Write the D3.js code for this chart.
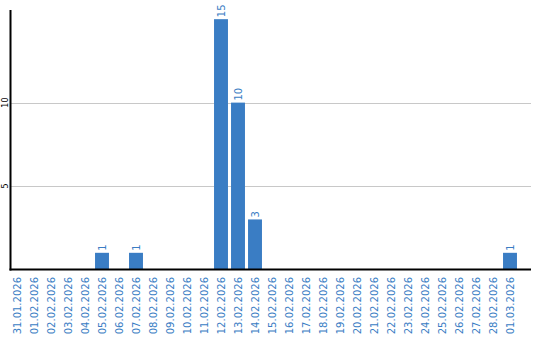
<!DOCTYPE html>
<html>
<head>
<meta charset="utf-8">
<script src="https://cdn.jsdelivr.net/npm/d3@7.9.0/dist/d3.min.js"></script>
<style>
  body { margin: 0; background: #fff; }
  svg { display: block; font-family: "DejaVu Sans", Verdana, sans-serif; }
</style>
</head>
<body>
<svg id="chart" width="540" height="340"></svg>
<script>
const dates = [
  "31.01.2026", "01.02.2026", "02.02.2026", "03.02.2026", "04.02.2026",
  "05.02.2026", "06.02.2026", "07.02.2026", "08.02.2026", "09.02.2026",
  "10.02.2026", "11.02.2026", "12.02.2026", "13.02.2026", "14.02.2026",
  "15.02.2026", "16.02.2026", "17.02.2026", "18.02.2026", "19.02.2026",
  "20.02.2026", "21.02.2026", "22.02.2026", "23.02.2026", "24.02.2026",
  "25.02.2026", "26.02.2026", "27.02.2026", "28.02.2026", "01.03.2026"
];
const counts = [0, 0, 0, 0, 0, 1, 0, 1, 0, 0, 0, 0, 15, 10, 3, 0, 0, 0, 0, 0, 0, 0, 0, 0, 0, 0, 0, 0, 0, 1];
const yTicks = [5, 10];

const blue = "#3a7dc4";
const svg = d3.select("#chart");

const plotLeft = 10.5, plotRight = 531, plotTop = 10, plotBottom = 269.5;

const x = d3.scaleBand()
  .domain(dates)
  .range([8.5, 518.5])
  .paddingInner(0.18)
  .paddingOuter(0.09);

const y = d3.scaleLinear()
  .domain([0, 15.55])
  .range([plotBottom, plotTop]);

// gridlines
svg.append("g")
  .selectAll("line")
  .data(yTicks)
  .join("line")
  .attr("x1", plotLeft)
  .attr("x2", plotRight)
  .attr("y1", d => Math.round(y(d)) + 0.5)
  .attr("y2", d => Math.round(y(d)) + 0.5)
  .attr("stroke", "#c8c8c8")
  .attr("stroke-width", 1);

// y tick labels
svg.append("g")
  .selectAll("text")
  .data(yTicks)
  .join("text")
  .attr("transform", d => `translate(8,${y(d)}) rotate(-90)`)
  .attr("text-anchor", "middle")
  .attr("font-size", 8)
  .attr("fill", "#000")
  .text(d => d);

// bars
const data = dates.map((d, i) => ({ date: d, value: counts[i] }));

svg.append("g")
  .selectAll("rect")
  .data(data.filter(d => d.value > 0))
  .join("rect")
  .attr("x", d => x(d.date))
  .attr("y", d => y(d.value))
  .attr("width", x.bandwidth())
  .attr("height", d => plotBottom - y(d.value))
  .attr("fill", blue);

// value labels
svg.append("g")
  .selectAll("text")
  .data(data.filter(d => d.value > 0))
  .join("text")
  .attr("transform", d => `translate(${x(d.date) + x.bandwidth() / 2 + 3.5},${y(d.value) - 2}) rotate(-90)`)
  .attr("text-anchor", "start")
  .attr("font-size", 10)
  .attr("fill", blue)
  .text(d => d.value);

// axes lines
svg.append("line")
  .attr("x1", plotLeft).attr("x2", plotLeft)
  .attr("y1", plotTop).attr("y2", plotBottom + 1)
  .attr("stroke", "#000").attr("stroke-width", 2);
svg.append("line")
  .attr("x1", plotLeft - 1).attr("x2", plotRight)
  .attr("y1", plotBottom).attr("y2", plotBottom)
  .attr("stroke", "#000").attr("stroke-width", 2);

// x tick labels
svg.append("g")
  .selectAll("text")
  .data(dates)
  .join("text")
  .attr("transform", d => `translate(${x(d) + x.bandwidth() / 2 + 3.5},277) rotate(-90)`)
  .attr("text-anchor", "end")
  .attr("font-size", 10)
  .attr("fill", blue)
  .text(d => d);
</script>
</body>
</html>
